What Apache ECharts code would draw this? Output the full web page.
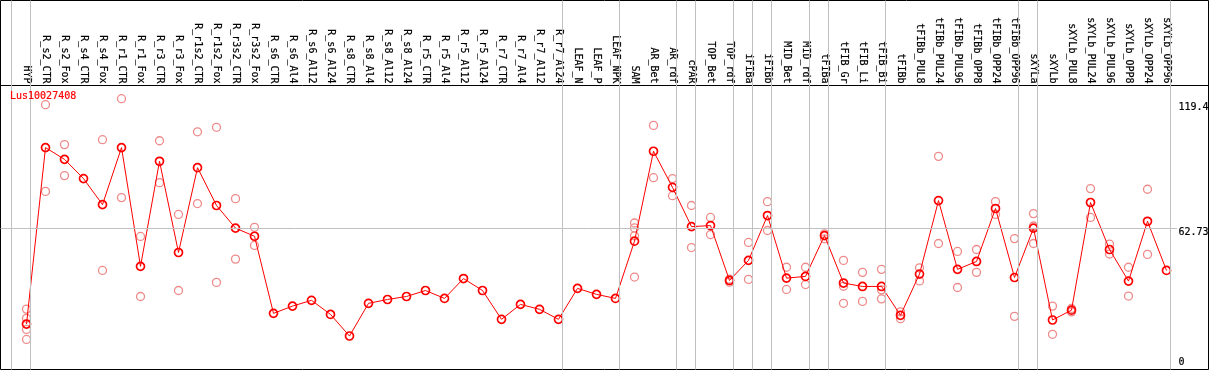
<!DOCTYPE html>
<html><head><meta charset="utf-8">
<script src="https://cdn.jsdelivr.net/npm/echarts@6/dist/echarts.min.js"></script>
<style>html,body{margin:0;padding:0;background:#fff}#c{width:1209px;height:370px}</style>
</head><body><div id="c"></div>
<script>
const geneName = 'Lus10027408';
const categories = ['HYP','R_s2_CTR','R_s2_Fox','R_s4_CTR','R_s4_Fox','R_r1_CTR','R_r1_Fox','R_r3_CTR','R_r3_Fox','R_r1s2_CTR','R_r1s2_Fox','R_r3s2_CTR','R_r3s2_Fox','R_s6_CTR','R_s6_Al4','R_s6_Al12','R_s6_Al24','R_s8_CTR','R_s8_Al4','R_s8_Al12','R_s8_Al24','R_r5_CTR','R_r5_Al4','R_r5_Al12','R_r5_Al24','R_r7_CTR','R_r7_Al4','R_r7_Al12','R_r7_Al24','LEAF_N','LEAF_P','LEAF_NPK','SAM','AR_Bet','AR_rdf','cPAR','TOP_Bet','TOP_rdf','iFIBa','iFIBb','MID_Bet','MID_rdf','tFIBa','tFIB_Gr','tFIB_Li','tFIB_Bi','tFIBb','tFIBb_PUL8','tFIBb_PUL24','tFIBb_PUL96','tFIBb_OPP8','tFIBb_OPP24','tFIBb_OPP96','sXYLa','sXYLb','sXYLb_PUL8','sXYLb_PUL24','sXYLb_PUL96','sXYLb_OPP8','sXYLb_OPP24','sXYLb_OPP96'];
const means = [18.0,100.6,95.1,86.1,73.9,100.6,45.0,94.2,51.5,91.2,73.5,62.9,59.1,23.0,26.4,29.1,22.5,12.4,27.7,29.5,30.9,33.7,30.0,39.3,33.7,20.2,27.2,24.9,20.2,34.7,31.9,30.0,56.8,98.9,82.0,63.6,64.1,38.4,47.8,68.8,39.5,40.3,59.4,37.2,35.6,35.6,22.1,41.4,75.8,43.6,47.3,72.1,39.8,62.9,19.9,24.5,74.9,52.9,38.1,66.1,43.1];
const replicates = [
  [25.0,20.7,15.5,10.8],[120.7,80.1],[102.0,87.5],[],[104.3,43.1],[123.5,77.2],[59.0,30.9],[103.8,84.2],[69.3,33.7],[108.0,74.4],[110.1,37.5],[76.7,48.4],[63.3,54.8],
  [],[],[],[],[],[],[],[],[],[],[],[],[],[],[],[],
  [],[],[],
  [65.3,63.0,59.3,40.0],[111.0,86.5],[86.1,78.1],[73.5,53.8],[67.9,59.9],[39.0,37.6],[56.2,38.9],[75.3,61.8],[44.6,34.2],[44.6,36.5],[60.2,57.9],[47.8,35.7,27.7],[42.2,28.6],[43.6,34.0,29.8],
  [23.7,20.5],[44.3,38.2],[96.5,55.7],[52.0,35.1],[52.9,42.2],[75.3,69.3],[58.0,21.6],[69.7,63.9,55.7],[26.4,13.2],[25.3,23.7],[81.4,67.9],[55.4,50.8],[44.6,31.1],[81.1,50.6],[]
];
const groupEnds = ['HYP','R_r7_Al24','LEAF_NPK','AR_rdf','cPAR','TOP_rdf','iFIBa','iFIBb','MID_rdf','tFIBa','tFIB_Bi','tFIBb_OPP96','sXYLa','sXYLb_OPP96'];
const yTickValues = [0, 62.73, 119.4];
const refLineValue = 62.73;

// layout
const FONT = 'DejaVu Sans Mono';
const GL = 0.5, GT = 0.5, GW = 1208, GH = 369;
const PX0 = 26.5, STEP = 19;            // pixel of first category, pixels per category
const xMin = (GL - PX0) / STEP, xMax = (GL + GW - PX0) / STEP;
const Y0 = 362.5, SCALE = 134 / 62.73;  // pixel of value 0, pixels per unit
const yMax = (Y0 - GT) / SCALE, yMin = (Y0 - (GT + GH)) / SCALE;
const SEP_OFF = 4 / STEP;
const TXT = {color: '#000', fontSize: 10, fontFamily: FONT, textBorderColor: '#000', textBorderWidth: 0.2};

const sepIdx = [-1].concat(groupEnds.map(n => categories.indexOf(n)));
const repData = [];
replicates.forEach((arr, i) => arr.forEach(v => repData.push([i, v])));

const chart = echarts.init(document.getElementById('c'), null, {renderer: 'canvas'});
chart.setOption({
  animation: false,
  backgroundColor: '#fff',
  title: {text: geneName, left: 10, top: 91, padding: 0,
    textStyle: {color: '#f00', fontSize: 10, fontWeight: 'normal', fontFamily: FONT, textBorderColor: '#f00', textBorderWidth: 0.2}},
  grid: {left: GL, top: GT, width: GW, height: GH, show: true, borderColor: '#000', borderWidth: 1,
    backgroundColor: '#fff', containLabel: false, outerBoundsMode: 'none'},
  xAxis: {type: 'value', position: 'top', offset: -85, min: xMin, max: xMax,
    axisLine: {show: true, onZero: false, lineStyle: {color: '#000', width: 1}},
    axisTick: {show: false}, splitLine: {show: false},
    axisLabel: Object.assign({customValues: categories.map((_, i) => i), formatter: v => categories[Math.round(v)],
      rotate: 90, margin: 2, hideOverlap: false}, TXT)},
  yAxis: {type: 'value', position: 'right', offset: -31, min: yMin, max: yMax,
    axisLine: {show: false, onZero: false}, axisTick: {show: false}, splitLine: {show: false},
    axisLabel: Object.assign({customValues: yTickValues, margin: 1, align: 'left',
      formatter: v => v === refLineValue ? '{d|' + v + '}' : String(v),
      rich: {d: Object.assign({padding: [8, 0, 0, 0]}, TXT)}}, TXT)},
  series: [
    {type: 'scatter', data: [], silent: true, z: 1,
      markLine: {silent: true, symbol: ['none', 'none'], label: {show: false}, animation: false,
        lineStyle: {color: '#c0c0c0', width: 1, type: 'solid'}, emphasis: {disabled: true},
        data: sepIdx.map(k => ({xAxis: k + SEP_OFF})).concat([[
          {coord: [xMin, refLineValue]}, {coord: [categories.length - 1 + 0.55, refLineValue]}
        ]])}},
    {type: 'scatter', data: repData, symbol: 'circle', symbolSize: 8, silent: true, z: 2,
      itemStyle: {color: 'transparent', borderColor: '#ee8a8a', borderWidth: 1.3, opacity: 1}},
    {type: 'line', data: means.map((v, i) => [i, v]), symbol: 'circle', symbolSize: 8, showSymbol: true,
      showAllSymbol: true, silent: true, z: 3,
      lineStyle: {color: '#f00', width: 1},
      itemStyle: {color: 'transparent', borderColor: '#f00', borderWidth: 1.7}}
  ]
});
</script></body></html>
